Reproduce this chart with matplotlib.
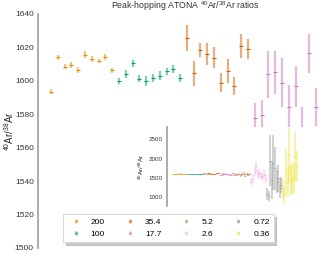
import matplotlib
matplotlib.use("Agg")
import matplotlib.pyplot as plt
from matplotlib.container import ErrorbarContainer
from matplotlib.legend_handler import HandlerErrorbar
from matplotlib.lines import Line2D
import numpy as np

plt.rcParams['font.family'] = ['Liberation Sans', 'DejaVu Sans']
plt.rcParams['mathtext.default'] = 'regular'

labels = ['200', '100', '35.4', '17.7', '5.2', '2.6', '0.72', '0.36']
colors = ['#de8f05', '#029e73', '#d55e00', '#cc78bc', '#ca9161', '#fbafe4', '#949494', '#ece133']

vals_200 = [1593.6, 1614.0, 1608.4, 1609.5, 1606.4, 1615.7, 1613.1, 1612.0, 1614.3, 1606.2]
err_200 = [1.5, 1.5, 1.5, 1.8, 1.6, 2.0, 1.6, 1.3, 1.6, 1.5]
vals_100 = [1600.2, 1604.2, 1610.4, 1601.3, 1600.0, 1601.8, 1603.2, 1605.8, 1607.2, 1601.6]
err_100 = [1.8, 2.3, 2.3, 2.0, 3.0, 2.5, 2.6, 2.0, 2.5, 2.3]
vals_354 = [1625.9, 1604.6, 1618.3, 1616.1, 1613.7, 1599.0, 1606.0, 1597.0, 1620.9, 1619.0]
err_354 = [7.8, 7.5, 4.3, 6.5, 6.3, 5.7, 7.0, 5.2, 7.0, 6.0]
vals_177 = [1577.7, 1579.5, 1604.0, 1605.0, 1599.0, 1584.5, 1596.8, 1570.0, 1616.5, 1584.5]
err_177 = [9.3, 8.8, 14.0, 12.6, 14.6, 13.0, 12.3, 14.5, 11.7, 11.3]
vals_52 = [1600, 1580, 1610, 1570, 1595, 1615, 1560, 1605, 1585, 1600]
err_52 = [30, 35, 30, 40, 30, 35, 40, 30, 35, 30]
vals_26 = [1400, 1480, 1660, 1800, 1600, 1620, 1560, 1540, 1590, 1480]
err_26 = [90, 100, 120, 150, 110, 100, 90, 100, 110, 120]
vals_072 = [1085, 1034, 1950, 1450, 1900, 1750, 1400, 1490, 1240, 1320]
err_072 = [150, 130, 670, 500, 700, 550, 300, 350, 250, 200]
vals_036 = [1233, 1060, 1662, 1403, 2094, 1447, 1491, 1491, 2050, 1791]
err_036 = [250, 200, 600, 400, 700, 400, 400, 400, 650, 400]

groups_v = [vals_200, vals_100, vals_354, vals_177, vals_52, vals_26, vals_072, vals_036]
groups_e = [err_200, err_100, err_354, err_177, err_52, err_26, err_072, err_036]

W, H = 320, 254
fig = plt.figure(figsize=(3.2, 2.54), dpi=100)
ax = fig.add_axes([38 / W, 6 / H, 294 / W, 234 / H])
ins = fig.add_axes([167 / W, 48 / H, 160 / W, 79 / H])
ins.set_zorder(5)
ins.set_facecolor('white')

handles = []
start = 0
for v, e, c, lab in zip(groups_v, groups_e, colors, labels):
    x = np.arange(start, start + len(v))
    h = ax.errorbar(x, v, yerr=e, fmt='_', color=c, ecolor=c, elinewidth=1.6,
                    markersize=3, markeredgewidth=0.8, label=lab)
    for art in h.lines[2]:
        art.set_alpha(0.5)
    handles.append(h)
    hi = ins.errorbar(x, v, yerr=e, fmt='_', color=c, ecolor=c, elinewidth=1.1,
                      markersize=1.5, markeredgewidth=0.5)
    for art in hi.lines[2]:
        art.set_alpha(0.55)
    start += len(v)

ax.set_xlim(-1.913, -1.913 + 294 / 6.795)
ax.set_ylim(1500, 1640)
ax.set_yticks(np.arange(1500, 1641, 20))
ax.set_xticks([])
for s in ['top', 'right', 'bottom']:
    ax.spines[s].set_visible(False)
ax.spines['left'].set_color('0.65')
ax.spines['left'].set_linewidth(1.3)
ax.tick_params(axis='y', length=0, labelsize=6, labelcolor='0.2', pad=3)
ax.set_ylabel('$^{40}$Ar/$^{38}$Ar', fontsize=7, color='0.15')
ax.yaxis.set_label_coords((16 - 38) / 294, 0.5)
fig.text(185 / W, 1 - 6 / H, 'Peak-hopping ATONA $^{40}$Ar/$^{38}$Ar ratios',
         fontsize=6.3, color='0.2', ha='center', va='center')

ins.set_xlim(-3.82, -3.82 + 160 / 1.57)
ins.set_ylim(775, 2820)
ins.set_yticks([1000, 1500, 2000, 2500])
ins.set_xticks([])
for s in ['top', 'right', 'bottom']:
    ins.spines[s].set_visible(False)
ins.spines['left'].set_color('0.65')
ins.spines['left'].set_linewidth(1.3)
ins.tick_params(axis='y', length=0, labelsize=4.5, labelcolor='0.2', pad=3)
ins.set_ylabel('$^{40}$Ar/$^{38}$Ar', fontsize=4.5, color='0.15', labelpad=2)


def _upd(legend_handle, orig_handle):
    legend_handle.update_from(orig_handle)
    if isinstance(legend_handle, Line2D):
        legend_handle.set_markersize(1.2)
    else:
        legend_handle.set_linewidth(2.0)


leg = fig.legend(handles=handles, labels=labels, ncol=4, fontsize=6,
                 loc='center', bbox_to_anchor=(168.5 / W, 1 - 228.3 / H),
                 frameon=True, shadow={'color': '0.6', 'alpha': 0.5}, fancybox=False,
                 columnspacing=2.0, handlelength=2.0, borderpad=0.5, labelspacing=0.5,
                 handler_map={ErrorbarContainer: HandlerErrorbar(yerr_size=0.22, update_func=_upd)})
leg.get_frame().set_edgecolor('0.85')
leg.get_frame().set_linewidth(0.8)
leg.set_zorder(10)

fig.savefig('out.png', dpi=100)
